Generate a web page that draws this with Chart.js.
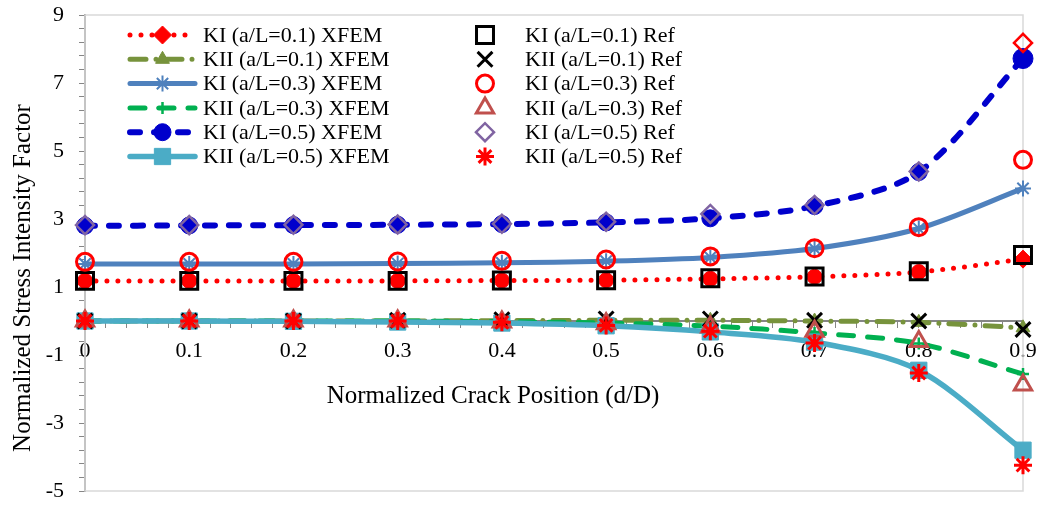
<!DOCTYPE html>
<html lang="en">
<head>
<meta charset="UTF-8" />
<title>Normalized Stress Intensity Factor</title>
<script src="https://cdn.jsdelivr.net/npm/chart.js@4"></script>
<style>
  html, body { margin: 0; padding: 0; background: #fff; }
</style>
</head>
<body>
<canvas id="chart" width="1041" height="506"></canvas>
<script>
// crack positions (d/D)
const positions = [0, 0.1, 0.2, 0.3, 0.4, 0.5, 0.6, 0.7, 0.8, 0.9];

// XFEM results
const kI01Xfem  = [1.18, 1.18, 1.18, 1.18, 1.19, 1.2, 1.24, 1.3, 1.44, 1.82];
const kII01Xfem = [0, 0, 0, 0, 0.01, 0.02, 0.02, 0, -0.04, -0.2];
const kI03Xfem  = [1.68, 1.68, 1.68, 1.69, 1.71, 1.76, 1.87, 2.13, 2.72, 3.9];
const kII03Xfem = [0, 0, 0, 0, -0.02, -0.06, -0.15, -0.35, -0.66, -1.56];
const kI05Xfem  = [2.8, 2.81, 2.82, 2.83, 2.85, 2.9, 3.02, 3.38, 4.38, 7.72];
const kII05Xfem = [0, 0, -0.01, -0.03, -0.06, -0.14, -0.32, -0.62, -1.45, -3.8];

// reference results
const kI01Ref  = [1.18, 1.18, 1.18, 1.18, 1.19, 1.2, 1.26, 1.31, 1.46, 1.94];
const kII01Ref = [0, 0, 0, 0.02, 0.04, 0.06, 0.06, 0.02, 0, -0.25];
const kI03Ref  = [1.74, 1.74, 1.74, 1.75, 1.77, 1.81, 1.9, 2.14, 2.76, 4.74];
const kII03Ref = [0, 0, 0, 0, -0.03, -0.08, -0.18, -0.3, -0.6, -1.88];
const kI05Ref  = [2.82, 2.82, 2.83, 2.84, 2.86, 2.92, 3.15, 3.41, 4.4, 8.18];
const kII05Ref = [0, 0, 0, 0, -0.04, -0.13, -0.3, -0.65, -1.53, -4.24];

// axis ticks
const xTickLabels = [0, 0.1, 0.2, 0.3, 0.4, 0.5, 0.6, 0.7, 0.8, 0.9];
const yTickLabels = [-5, -3, -1, 1, 3, 5, 7, 9];
const xMinorStep = 0.02;
const yMinorStep = 0.4;

const xTitle = "Normalized Crack Position (d/D)";
const yTitle = "Normalized Stress Intensity Factor";

const FONT = "'Liberation Serif', 'Times New Roman', serif";
const AXIS = "#868686";

const pts = (arr) => positions.map((x, i) => ({ x: x, y: arr[i] }));
const lastOnly = (arr, last, other) => arr.map((v, i) => (i === arr.length - 1 ? last : other));

function tickList(labels, step) {
  const min = labels[0], max = labels[labels.length - 1];
  const n = Math.round((max - min) / step);
  const out = [];
  for (let i = 0; i <= n; i++) out.push({ value: +(min + i * step).toFixed(4) });
  return out;
}
const isMajor = (labels, v) => labels.some((m) => Math.abs(m - v) < 1e-6);

function xfem(label, arr, color, style) {
  return Object.assign({
    label: label,
    data: pts(arr),
    borderColor: color,
    backgroundColor: color,
    pointBorderColor: color,
    pointBackgroundColor: color,
    borderCapStyle: "round",
    tension: 0.3,
    clip: false,
  }, style);
}

function ref(label, arr, color, style) {
  return Object.assign({
    label: label,
    data: pts(arr),
    showLine: false,
    borderColor: color,
    pointBorderColor: color,
    pointBackgroundColor: "rgba(0,0,0,0)",
    clip: false,
  }, style);
}

const datasets = [
  xfem("KI (a/L=0.1) XFEM", kI01Xfem, "#FF0000",
    { borderWidth: 5, borderDash: [0, 11], legendStyle: "rectRot", legendRadius: 9,
      pointStyle: lastOnly(kI01Xfem, "rectRot", "circle"), pointRadius: lastOnly(kI01Xfem, 9, 7.5), pointBorderWidth: 1 }),
  xfem("KII (a/L=0.1) XFEM", kII01Xfem, "#77933C",
    { borderWidth: 5, borderDash: [16, 10, 0, 10], pointStyle: "triangle", pointRadius: 8, pointBorderWidth: 1 }),
  xfem("KI (a/L=0.3) XFEM", kI03Xfem, "#4F81BD",
    { borderWidth: 5, pointStyle: "star", pointRadius: 8, pointBorderWidth: 2 }),
  xfem("KII (a/L=0.3) XFEM", kII03Xfem, "#00B050",
    { borderWidth: 5, borderDash: [15, 14], pointStyle: "cross", pointRadius: 6, pointBorderWidth: 2.5 }),
  xfem("KI (a/L=0.5) XFEM", kI05Xfem, "#0000CC",
    { borderWidth: 6, borderDash: [10, 14], pointStyle: "circle", pointRadius: lastOnly(kI05Xfem, 10, 8.5), pointBorderWidth: 1 }),
  xfem("KII (a/L=0.5) XFEM", kII05Xfem, "#4BACC6",
    { borderWidth: 5.5, pointStyle: "rect", pointRadius: 11.5, pointBorderWidth: 1 }),
  ref("KI (a/L=0.1) Ref", kI01Ref, "#000000",
    { pointStyle: "rect", pointRadius: 12, pointBorderWidth: 3 }),
  ref("KII (a/L=0.1) Ref", kII01Ref, "#000000",
    { pointStyle: "crossRot", pointRadius: 10.5, pointBorderWidth: 3 }),
  ref("KI (a/L=0.3) Ref", kI03Ref, "#FF0000",
    { pointStyle: "circle", pointRadius: 8.5, pointBorderWidth: 3 }),
  ref("KII (a/L=0.3) Ref", kII03Ref, "#C0504D",
    { pointStyle: "triangle", pointRadius: 10, pointBorderWidth: 3 }),
  ref("KI (a/L=0.5) Ref", kI05Ref, "#8064A2",
    { pointStyle: "rectRot", pointRadius: 9, pointBorderWidth: 2.5,
      pointBorderColor: lastOnly(kI05Ref, "#FF0000", "#8064A2") }),
  ref("KII (a/L=0.5) Ref", kII05Ref, "#FF0000",
    { pointStyle: "star", pointRadius: 9, pointBorderWidth: 3 }),
];
// later series sit on top, as in the original
datasets.forEach((d, i) => { d.order = datasets.length - i; });

const first = (v) => (Array.isArray(v) ? v[0] : v);

// light frame around the plot area
const plotFrame = {
  id: "plotFrame",
  beforeDatasetsDraw(chart) {
    const { ctx, chartArea: a } = chart;
    ctx.save();
    ctx.strokeStyle = "#d9d9d9";
    ctx.lineWidth = 1.5;
    ctx.strokeRect(a.left, a.top, a.right - a.left, a.bottom - a.top);
    ctx.restore();
  },
};

// axis titles, placed like the original (not centred on the plot area)
const axisTitles = {
  id: "axisTitles",
  afterDraw(chart) {
    const { ctx } = chart;
    ctx.save();
    ctx.font = "25px " + FONT;
    ctx.fillStyle = "#000";
    ctx.textAlign = "center";
    ctx.textBaseline = "middle";
    ctx.fillText(xTitle, 493, 396);
    ctx.translate(23, 278);
    ctx.rotate(-Math.PI / 2);
    ctx.fillText(yTitle, 0, 0);
    ctx.restore();
  },
};

// two-column legend: XFEM lines on the left, reference markers on the right
const twoColLegend = {
  id: "twoColLegend",
  afterDraw(chart) {
    const { ctx } = chart;
    const rowY = 35, rowStep = 24.3;
    ctx.save();
    ctx.font = "22px " + FONT;
    ctx.textBaseline = "middle";
    chart.data.datasets.forEach((d, i) => {
      const col = i < 6 ? 0 : 1;
      const y = rowY + (i % 6) * rowStep;
      const cx = col === 0 ? 162.5 : 485;
      if (col === 0) {
        ctx.save();
        ctx.strokeStyle = d.borderColor;
        ctx.lineWidth = d.borderWidth;
        ctx.lineCap = "round";
        ctx.setLineDash(d.borderDash || []);
        ctx.beginPath();
        ctx.moveTo(130, y);
        ctx.lineTo(195, y);
        ctx.stroke();
        ctx.restore();
      }
      ctx.save();
      ctx.setLineDash([]);
      ctx.strokeStyle = first(d.pointBorderColor);
      ctx.fillStyle = d.pointBackgroundColor;
      ctx.lineWidth = d.pointBorderWidth;
      Chart.helpers.drawPoint(ctx, {
        pointStyle: d.legendStyle || first(d.pointStyle),
        radius: d.legendRadius || first(d.pointRadius),
        rotation: 0,
        borderWidth: d.pointBorderWidth,
      }, cx, y);
      ctx.restore();
      ctx.fillStyle = "#000";
      ctx.fillText(d.label, col === 0 ? 203 : 525, y + 1);
    });
    ctx.restore();
  },
};

new Chart(document.getElementById("chart"), {
  type: "line",
  data: { datasets: datasets },
  options: {
    responsive: false,
    animation: false,
    events: [],
    layout: { autoPadding: false, padding: { left: 0, top: 15, right: 18, bottom: 15 } },
    plugins: { legend: { display: false }, tooltip: { enabled: false } },
    scales: {
      x: {
        type: "linear",
        position: { y: 0 },
        min: 0,
        max: 0.9,
        afterBuildTicks: (scale) => { scale.ticks = tickList(xTickLabels, xMinorStep); },
        afterFit: (scale) => { scale.paddingLeft = 0; scale.paddingRight = 0; },
        ticks: {
          autoSkip: false,
          maxRotation: 0,
          padding: 11,
          color: "#000",
          font: { family: FONT, size: 22 },
          callback: (v) => (isMajor(xTickLabels, v) ? String(+v.toFixed(1)) : ""),
        },
        grid: { drawOnChartArea: false, tickLength: 6, tickColor: AXIS, tickWidth: 1 },
        border: { color: AXIS, width: 2 },
      },
      y: {
        type: "linear",
        position: "left",
        min: -5,
        max: 9,
        afterFit: (scale) => { scale.width = 85; scale.paddingTop = 0; scale.paddingBottom = 0; },
        afterBuildTicks: (scale) => { scale.ticks = tickList(yTickLabels, yMinorStep); },
        ticks: {
          autoSkip: false,
          padding: 15,
          color: "#000",
          font: { family: FONT, size: 22 },
          callback: (v) => (isMajor(yTickLabels, v) ? String(Math.round(v)) : ""),
        },
        grid: { drawOnChartArea: false, tickLength: 6, tickColor: AXIS, tickWidth: 1 },
        border: { color: AXIS, width: 2 },
      },
    },
  },
  plugins: [plotFrame, axisTitles, twoColLegend],
});
</script>
</body>
</html>
